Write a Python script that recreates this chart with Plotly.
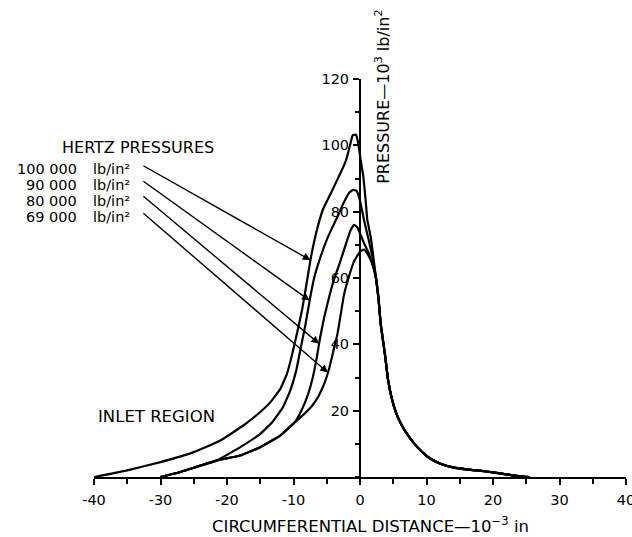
import numpy as np
import plotly.graph_objects as go

# Circumferential distance (10^-3 in) and pressure (10^3 lb/in^2) for each Hertz pressure,
# inlet side through the pressure spike, ending where the curves join the common outlet.
p100_x = [-40, -35, -30, -25, -21, -17.5, -15, -13.5, -12, -11, -10.2, -9.4, -8.7, -8.1, -7.4,
          -6.6, -5.6, -4.4, -3.2, -2.1, -1.5, -1.1, -0.6, -0.3, 0.1, 0.5, 0.8, 1.1, 1.6, 2.0]
p100_y = [0, 2, 4.5, 7.5, 11, 15.6, 19.6, 22.5, 26.5, 31, 37, 44, 50.5, 57.5, 66,
          73.5, 80.5, 85.5, 90.5, 95.5, 100, 103, 103.2, 101, 95.6, 90.6, 84.5, 77.5, 72.5, 66.5]

p90_x = [-30, -27, -25, -21.5, -18, -15, -13.2, -11.6, -10.5, -9.6, -8.9, -8.2, -7.5, -6.9,
         -6.0, -4.9, -3.5, -2.5, -1.6, -1.0, -0.5, -0.1, 0.3, 0.6, 1.3, 1.9]
p90_y = [0, 1.5, 2.8, 5, 9, 13, 16.5, 21, 26, 32, 39, 46, 54, 60,
         66, 72, 78, 82.5, 85.8, 86.6, 86.2, 84, 80.5, 77.5, 71.5, 66]

p80_x = [-30, -27, -25, -21.5, -18, -15, -12, -9.8, -8.7, -7.8, -7.1, -6.5, -6.0, -5.4,
         -4.8, -4.0, -2.9, -2.0, -1.4, -0.9, -0.5, -0.2, 0.6, 1.3, 1.9]
p80_y = [0, 1.5, 2.8, 5, 6.5, 9, 12.5, 16.5, 20.5, 25, 30, 36, 42, 48,
         53, 59, 65.4, 71, 74.5, 76, 75.5, 74.5, 70.5, 67.5, 64]

p69_x = [-30, -27, -25, -21.5, -18, -15, -12, -9.8, -8.5, -7.2, -6.2, -5.3, -4.6, -4.0,
         -3.4, -2.9, -2.4, -1.8, -0.9, 0.0, 0.6, 1.2, 1.8]
p69_y = [0, 1.5, 2.8, 5, 6.5, 9, 12.5, 16.5, 18.8, 21.5, 24.5, 28.5, 33, 38,
         43, 49, 55, 59.5, 65, 68, 68.6, 67, 64.5]

# Outlet region shared by all four loads
outlet_x = [2.4, 2.8, 3.1, 3.8, 4.2, 4.8, 5.4, 6.1, 7.0, 8.1, 9.3, 10.6, 12.0, 14.0,
            16.0, 18.0, 20.0, 22.0, 24.0, 25.5]
outlet_y = [60, 53.5, 46.3, 36.2, 29.5, 23.5, 19.5, 16.3, 13.2, 10.2, 7.6, 5.5, 4.1, 2.9,
            2.3, 1.9, 1.4, 0.8, 0.2, 0]

hertz_values = ["100 000", "90 000", "80 000", "69 000"]
hertz_unit = "lb/in\u00b2"

x_ticks = [-40, -30, -20, -10, 0, 10, 20, 30, 40]
y_ticks = [20, 40, 60, 80, 100, 120]

curves = [(p100_x, p100_y), (p90_x, p90_y), (p80_x, p80_y), (p69_x, p69_y)]

FONT = "DejaVu Sans"
INK = "black"

fig = go.Figure()
for cx, cy in curves:
    fig.add_trace(go.Scatter(
        x=cx + outlet_x, y=cy + outlet_y, mode="lines",
        line=dict(color=INK, width=2.2, shape="spline", smoothing=0.3),
        hoverinfo="skip", showlegend=False,
    ))

# Legend block (paper coordinates): values right-aligned, units left-aligned,
# leader arrows from each row to its curve
label_rows = [0.798, 0.760, 0.719, 0.679]
arrow_start_y = [94.1, 89.5, 85.0, 79.9]
arrow_tip_y = [65.4, 53.2, 40.2, 31.5]
fig.add_annotation(x=-0.064, y=0.858, xref="paper", yref="paper", text="HERTZ PRESSURES",
                   xanchor="left", showarrow=False, font=dict(family=FONT, size=16, color=INK))
for (cx, cy), val, ry, sy, ty in zip(curves, hertz_values, label_rows, arrow_start_y, arrow_tip_y):
    fig.add_annotation(x=-0.029, y=ry, xref="paper", yref="paper", text=val, showarrow=False,
                       xanchor="right", font=dict(family=FONT, size=14.5, color=INK))
    fig.add_annotation(x=-0.006, y=ry, xref="paper", yref="paper", text=hertz_unit,
                       showarrow=False, xanchor="left",
                       font=dict(family=FONT, size=14.5, color=INK))
    ypk = int(np.argmax(cy))
    tip_x = float(np.interp(ty, cy[:ypk + 1], cx[:ypk + 1]))
    fig.add_annotation(x=tip_x, y=ty, xref="x", yref="y",
                       ax=-32.8, ay=sy, axref="x", ayref="y",
                       text="", showarrow=True, arrowhead=2, arrowsize=1.1,
                       arrowwidth=1.4, arrowcolor=INK, standoff=0)

fig.add_annotation(x=-30.6, y=18.1, xref="x", yref="y", text="INLET REGION",
                   showarrow=False, font=dict(family=FONT, size=16.5, color=INK))

# Axis titles
fig.add_annotation(x=3.4, y=114.5, xref="x", yref="y",
                   text="PRESSURE\u201410<sup>3</sup> lb/in<sup>2</sup>", textangle=-90,
                   showarrow=False, font=dict(family=FONT, size=16, color=INK))
fig.add_annotation(x=0.519, y=-0.121, xref="paper", yref="paper", yanchor="middle",
                   text="CIRCUMFERENTIAL DISTANCE\u201410<sup>\u22123</sup> in",
                   showarrow=False, font=dict(family=FONT, size=16.5, color=INK))

fig.update_xaxes(
    range=[-40, 40], tickvals=x_ticks, ticktext=[str(v) for v in x_ticks],
    showline=True, linecolor=INK, linewidth=2, ticks="outside", ticklen=6,
    tickwidth=2, tickcolor=INK, showgrid=False, zeroline=False,
    minor=dict(dtick=5, tick0=0, ticks="outside", ticklen=5, tickwidth=1.6, tickcolor=INK),
    tickfont=dict(family=FONT, size=14.5, color=INK), ticklabelstandoff=3,
    ticklabeloverflow="allow", automargin=False,
)
fig.update_yaxes(
    range=[0, 120], anchor="free", position=0.5, side="left",
    tickvals=y_ticks, ticktext=[str(v) for v in y_ticks],
    showline=True, linecolor=INK, linewidth=2, ticks="outside", ticklen=6,
    tickwidth=2, tickcolor=INK, showgrid=False, zeroline=False,
    minor=dict(dtick=10, tick0=0, ticks="outside", ticklen=4, tickwidth=1.6, tickcolor=INK),
    tickfont=dict(family=FONT, size=14.5, color=INK), ticklabelstandoff=1,
    automargin=False,
)

fig.update_layout(
    width=632, height=537,
    margin=dict(l=94, r=6, t=79, b=60),
    paper_bgcolor="white", plot_bgcolor="white",
    showlegend=False,
)

fig.write_html("out.html")
